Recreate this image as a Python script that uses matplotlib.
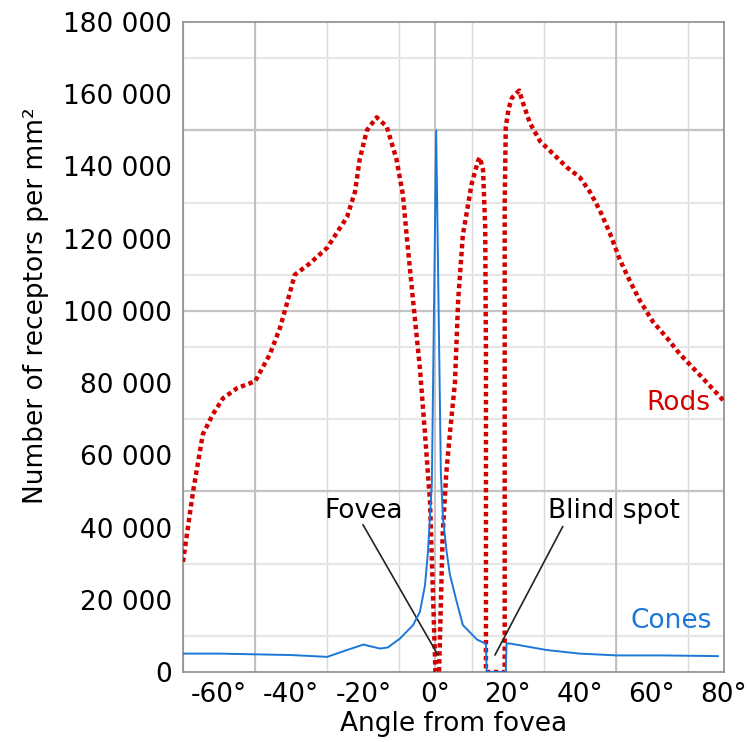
import matplotlib
matplotlib.use("Agg")
import matplotlib.pyplot as plt
from matplotlib.ticker import FuncFormatter

# Rods (red dotted)
rod_x = [-70, -67.2, -64.5, -61.7, -58.9, -55, -50, -45.9, -43.1, -41.2, -39, -35, -30,
         -24.5, -22.3, -21, -19, -16.3, -13.5, -10.8, -9, -8, -6.2, -4.3, -2.9, -1.5, 0,
         1.0, 2.0, 3.0, 4.0, 5.4, 6.3, 7.6, 10, 11.8, 12.3, 13.2, 13.8, 14.0, 14.0,
         19.2, 19.2, 19.5, 20.3, 21.2, 23.2, 24.3, 26.2, 29, 32.6, 36.5, 40, 42.8, 45.6,
         48.4, 51.2, 53.9, 56.7, 60.3, 64.2, 67.8, 74, 80]
rod_y = [30500, 50000, 65800, 71400, 75800, 78600, 80500, 88000, 95300, 102000, 110000, 113000, 117500,
         126000, 133000, 142000, 150000, 153600, 151000, 142000, 132000, 121000, 102800, 84000, 66000, 47000, 0,
         0, 38000, 55000, 66000, 80000, 103000, 121000, 135000, 141500, 142500, 139000, 123000, 88000, 0,
         0, 130000, 151000, 156000, 159000, 161000, 157500, 152000, 147000, 143500, 139700, 137000, 133000, 127800,
         121400, 114000, 108300, 102800, 97000, 92500, 88000, 81500, 75000]

# Cones (blue)
cone_x = [-70, -60, -50, -40, -30, -24.5, -20, -15.4, -13.2, -9.8, -6.2, -4.3, -2.9, -2.1, -1.0, 0.2,
          1.5, 2.1, 3.1, 4.0, 5.9, 7.6, 11.5, 14.0, 14.2, 19.5, 19.7, 20.6, 30.8, 40, 50.3, 63, 78.3]
cone_y = [5100, 5100, 4900, 4700, 4200, 6100, 7600, 6500, 6800, 9300, 13000, 16700, 24000, 33000, 52000, 150000,
          55000, 42500, 33300, 27000, 19400, 13000, 9000, 7800, 0, 0, 7900, 7900, 6100, 5100, 4600, 4600, 4400]

x_ticks = [-60, -40, -20, 0, 20, 40, 60, 80]
y_ticks = list(range(0, 180001, 20000))

red = "#d40000"
blue = "#1c78d8"
fs = 19

fig = plt.figure(figsize=(7.49, 7.42), dpi=100)
ax = fig.add_axes([0.2443, 0.0943, 0.9666 - 0.2443, 0.9704 - 0.0943])

# grid: light every 10 / 10 000, darker every 50 / 50 000
ax.set_xticks(range(-70, 81, 10), minor=True)
ax.set_yticks(range(0, 180001, 10000), minor=True)
ax.grid(False)
ax.grid(True, which="minor", axis="x", color="#d9d9d9", lw=1.0)
ax.grid(True, which="minor", axis="y", color="#e6e6e6", lw=1.6)
for v in (-50, 0, 50):
    ax.axvline(v, color="#b5b5b5", lw=1.1, zorder=0.6)
for v in (50000, 100000, 150000):
    ax.axhline(v, color="#c4c4c4", lw=1.6, zorder=0.6)
ax.set_axisbelow(True)

ax.plot(rod_x, rod_y, color=red, lw=3.2, linestyle=(0, (1, 0.8)), zorder=3)
ax.plot(cone_x, cone_y, color=blue, lw=1.4, zorder=4)

ax.set_xlim(-70, 80)
ax.set_ylim(0, 180000)
ax.set_xticks(x_ticks)
ax.set_yticks(y_ticks)
ax.xaxis.set_major_formatter(FuncFormatter(lambda v, p: f"{int(v)}°"))
ax.yaxis.set_major_formatter(FuncFormatter(lambda v, p: f"{int(v):,}".replace(",", " ")))
ax.tick_params(which="both", length=0, labelsize=fs, colors="#000000")
ax.tick_params(axis="y", pad=8)
ax.tick_params(axis="x", pad=7)
for s in ax.spines.values():
    s.set_color("#8c8c8c")
    s.set_linewidth(1.2)

ax.set_xlabel("Angle from fovea", fontsize=fs, labelpad=2)
ax.set_ylabel("Number of receptors per mm²", fontsize=fs)
ax.yaxis.set_label_coords(-0.248, 0.563)

ax.text(67.3, 74400, "Rods", color=red, fontsize=fs, ha="center", va="center")
ax.text(65.5, 14200, "Cones", color=blue, fontsize=fs, ha="center", va="center")
ax.text(-19.8, 44500, "Fovea", fontsize=fs, ha="center", va="center")
ax.text(49.5, 44500, "Blind spot", fontsize=fs, ha="center", va="center")
ax.annotate("", xy=(0.7, 4700), xytext=(-20.1, 40800),
            arrowprops=dict(arrowstyle="-", color="#222222", lw=1.2, shrinkA=0, shrinkB=0))
ax.annotate("", xy=(16.5, 4700), xytext=(35.3, 40300),
            arrowprops=dict(arrowstyle="-", color="#222222", lw=1.2, shrinkA=0, shrinkB=0))

fig.savefig("out.png", dpi=100)
